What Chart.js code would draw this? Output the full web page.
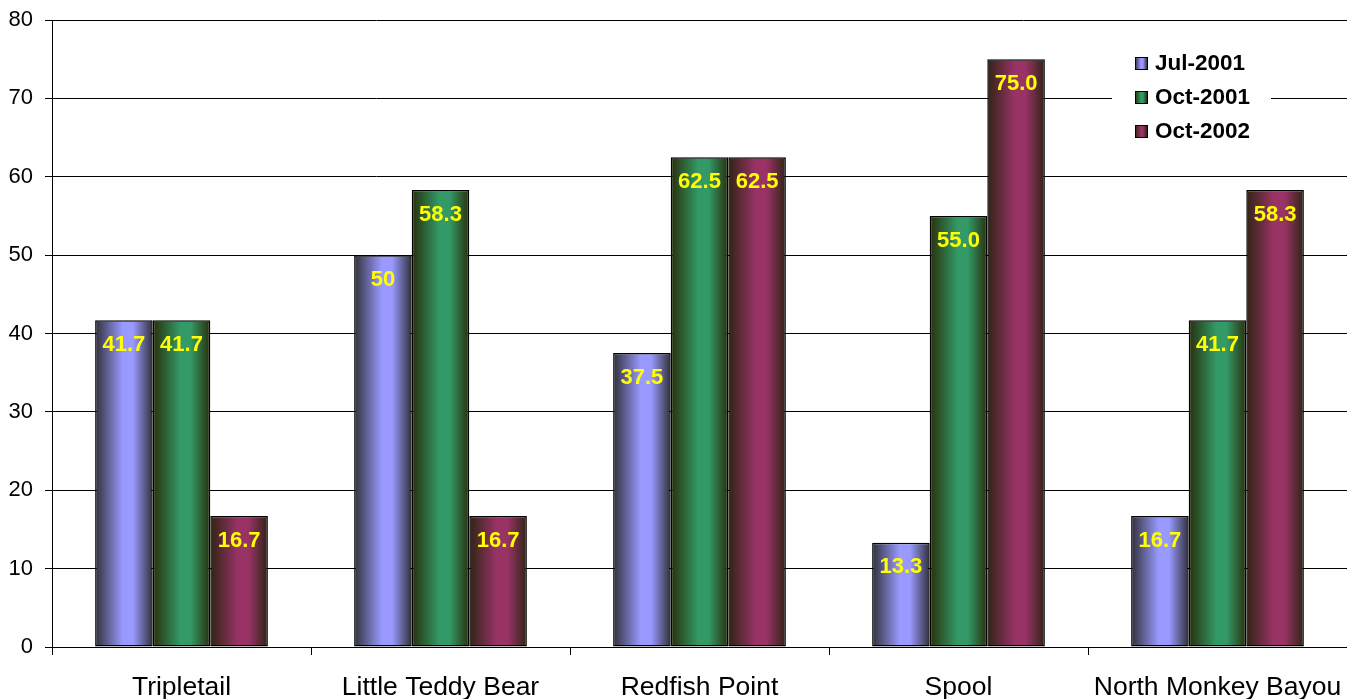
<!DOCTYPE html>
<html>
<head>
<meta charset="utf-8">
<title>Sites by survey</title>
<script src="https://cdn.jsdelivr.net/npm/chart.js@4/dist/chart.umd.min.js"></script>
<style>
  html, body { margin: 0; padding: 0; background: #ffffff; overflow: hidden; }
  #wrap { width: 1347px; height: 699px; }
</style>
</head>
<body>
<div id="wrap"><canvas id="chart" width="1347" height="699"></canvas></div>
<script>
// Sites along the x axis
const categories = ['Tripletail', 'Little Teddy Bear', 'Redfish Point', 'Spool', 'North Monkey Bayou'];

// Survey values, kept as the printed strings so bar and label share one source
const jul2001 = ['41.7', '50', '37.5', '13.3', '16.7'];
const oct2001 = ['41.7', '58.3', '62.5', '55.0', '41.7'];
const oct2002 = ['16.7', '16.7', '62.5', '75.0', '58.3'];

const seriesNames = ['Jul-2001', 'Oct-2001', 'Oct-2002'];

// Y axis range and tick step
const yMin = 0;
const yMax = 80;
const yStep = 10;

const FONT = '"Liberation Sans", Arial, Helvetica, sans-serif';

// Per-series tube shading: dark edge, bright body, dark edge
const shades = [
  { dark: '#30303a', light: '#9999ff' },
  { dark: '#282f0c', light: '#339966' },
  { dark: '#302414', light: '#993366' }
];

function tubeGradient(ctx, left, right, shade) {
  const g = ctx.createLinearGradient(left, 0, right, 0);
  g.addColorStop(0, shade.dark);
  g.addColorStop(0.48, shade.light);
  g.addColorStop(0.66, shade.light);
  g.addColorStop(1, shade.dark);
  return g;
}

// Paint each bar with a horizontal gradient across its own width
const tubeFill = {
  id: 'tubeFill',
  beforeDatasetsDraw(chart) {
    const ctx = chart.ctx;
    chart.data.datasets.forEach((ds, di) => {
      const meta = chart.getDatasetMeta(di);
      meta.data.forEach(el => {
        const { x, width } = el.getProps(['x', 'width'], true);
        const left = x - width / 2;
        const right = x + width / 2;
        el.options = Object.assign({}, el.options, {
          backgroundColor: tubeGradient(ctx, left, right, shades[di])
        });
      });
    });
  }
};

// Value labels printed inside the top of each bar
const valueLabels = {
  id: 'valueLabels',
  afterDatasetsDraw(chart) {
    const ctx = chart.ctx;
    ctx.save();
    ctx.font = 'bold 22px ' + FONT;
    ctx.fillStyle = '#ffff00';
    ctx.textAlign = 'center';
    ctx.textBaseline = 'middle';
    chart.data.datasets.forEach((ds, di) => {
      const meta = chart.getDatasetMeta(di);
      meta.data.forEach((el, i) => {
        const { x, y } = el.getProps(['x', 'y'], true);
        ctx.fillText(ds.printed[i], x, y + 24.5);
      });
    });
    ctx.restore();
  }
};

// Legend box drawn inside the plot, upper right
const boxLegend = {
  id: 'boxLegend',
  afterDraw(chart) {
    const ctx = chart.ctx;
    const area = chart.chartArea;
    const boxLeft = area.right - 235;
    const boxTop = area.top + 25;
    ctx.save();
    ctx.fillStyle = '#ffffff';
    ctx.fillRect(boxLeft, boxTop, 159, 103);
    ctx.font = 'bold 22.5px ' + FONT;
    ctx.textBaseline = 'middle';
    ctx.textAlign = 'left';
    chart.data.datasets.forEach((ds, di) => {
      const cy = boxTop + 18 + di * 34;
      const mx = boxLeft + 23;
      const my = cy - 6;
      ctx.fillStyle = tubeGradient(ctx, mx, mx + 12, shades[di]);
      ctx.fillRect(mx, my, 12, 12);
      ctx.strokeStyle = '#000000';
      ctx.lineWidth = 1;
      ctx.strokeRect(mx + 0.5, my + 0.5, 12, 12);
      ctx.fillStyle = '#000000';
      ctx.fillText(ds.label, boxLeft + 43, cy + 1);
    });
    ctx.restore();
  }
};

const seriesValues = [jul2001, oct2001, oct2002];

const datasets = seriesValues.map((vals, di) => ({
  label: seriesNames[di],
  data: vals.map(Number),
  printed: vals,
  backgroundColor: shades[di].light,
  borderColor: '#000000',
  borderWidth: 1.5,
  borderSkipped: false,
  categoryPercentage: 0.667,
  barPercentage: 1.0
}));

new Chart(document.getElementById('chart'), {
  type: 'bar',
  data: { labels: categories, datasets: datasets },
  plugins: [tubeFill, valueLabels, boxLegend],
  options: {
    responsive: false,
    animation: false,
    events: [],
    layout: { padding: { top: 20, right: 0, left: 0, bottom: 0 } },
    plugins: {
      legend: { display: false },
      tooltip: { enabled: false },
      title: { display: false }
    },
    scales: {
      x: {
        offset: true,
        grid: {
          offset: true,
          drawOnChartArea: false,
          drawTicks: true,
          tickLength: 8,
          color: '#000000',
          lineWidth: 1
        },
        border: { display: true, color: '#000000', width: 1 },
        ticks: {
          color: '#000000',
          font: { family: FONT, size: 26.5 },
          padding: 16.5,
          maxRotation: 0,
          autoSkip: false
        },
        afterFit(scale) {
          scale.height = 52;
          scale.paddingLeft = 0;
          scale.paddingRight = 0;
        }
      },
      y: {
        min: yMin,
        max: yMax,
        grid: {
          color: '#000000',
          lineWidth: 1,
          drawTicks: true,
          tickLength: 7
        },
        border: { display: true, color: '#000000', width: 1 },
        ticks: {
          stepSize: yStep,
          color: '#000000',
          font: { family: FONT, size: 22 },
          padding: 12
        },
        afterFit(scale) {
          scale.width = 52;
          scale.paddingTop = 0;
          scale.paddingBottom = 0;
        }
      }
    }
  }
});
</script>
</body>
</html>
